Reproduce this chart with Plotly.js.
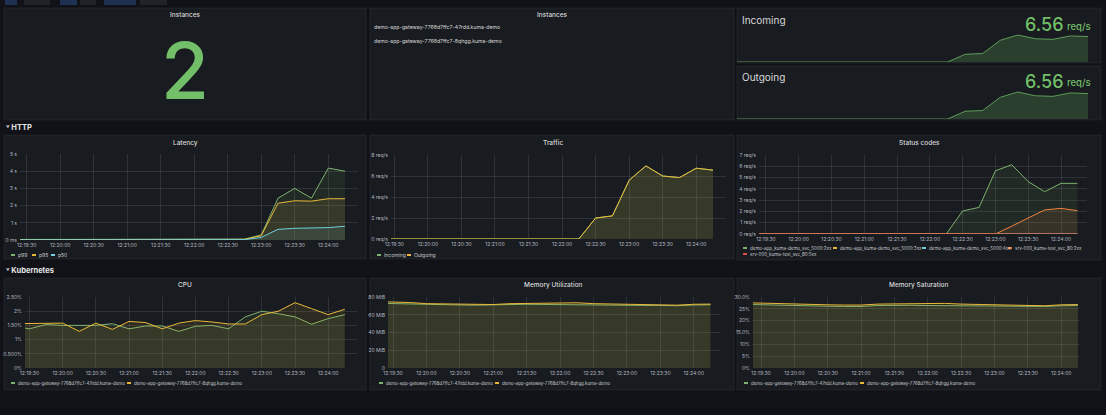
<!DOCTYPE html>
<html><head><meta charset="utf-8">
<script src="https://cdn.plot.ly/plotly-3.0.1.min.js"></script>
<style>html,body{margin:0;padding:0;background:#111217;overflow:hidden}#chart{width:1106px;height:415px}</style>
</head><body><div id="chart"></div>
<script>
// ---------- DATA ----------
const times = ['12:19:15','12:19:30','12:19:45','12:20:00','12:20:15','12:20:30','12:20:45','12:21:00','12:21:15','12:21:30','12:21:45','12:22:00','12:22:15','12:22:30','12:22:45','12:23:00','12:23:15','12:23:30','12:23:45','12:24:00','12:24:15'];
const timeTicks = ['12:19:30','12:20:00','12:20:30','12:21:00','12:21:30','12:22:00','12:22:30','12:23:00','12:23:30','12:24:00'];

const instanceCount = '2';
const instanceNames = ['demo-app-gateway-7768d7ffc7-47rdd.kuma-demo','demo-app-gateway-7768d7ffc7-8qhgg.kuma-demo'];
const incomingValue = '6.56';
const outgoingValue = '6.56';

const latencyNames = ['p99','p95','p50'];
const latencyP99 = [0.03,0.03,0.03,0.03,0.03,0.03,0.03,0.03,0.03,0.03,0.03,0.03,0.03,0.03,0.05,0.30,2.43,3.00,2.43,4.18,4.00];
const latencyP95 = [0.02,0.02,0.02,0.02,0.02,0.02,0.02,0.02,0.02,0.02,0.02,0.02,0.02,0.02,0.04,0.25,2.14,2.28,2.26,2.40,2.40];
const latencyP50 = [0.01,0.01,0.01,0.01,0.01,0.01,0.01,0.01,0.01,0.01,0.01,0.01,0.01,0.01,0.02,0.15,0.62,0.68,0.68,0.72,0.80];
const latencyTickVals = [0,1,2,3,4,5];
const latencyTickText = ['0 ms','1 s','2 s','3 s','4 s','5 s'];

const trafficNames = ['Incoming','Outgoing'];
const trafficIncoming = [0,0,0,0,0,0,0,0,0,0,0,0,0,2.00,2.20,5.60,6.96,6.00,5.85,6.74,6.56];
const trafficOutgoing = [0,0,0,0,0,0,0,0,0,0,0,0,0,2.00,2.20,5.60,6.96,6.00,5.85,6.74,6.56];
const trafficTickVals = [0,2,4,6,8];
const trafficTickText = ['0 req/s','2 req/s','4 req/s','6 req/s','8 req/s'];

const statusNames = ['demo-app_kuma-demo_svc_5000:2xx','demo-app_kuma-demo_svc_5000:3xx','demo-app_kuma-demo_svc_5000:4xx','srv-000_kuma-test_svc_80:2xx','srv-000_kuma-test_svc_80:5xx'];
const statusDemo2xx = [0,0,0,0,0,0,0,0,0,0,0,0,0,2.04,2.36,5.60,6.14,4.64,3.75,4.49,4.49];
const statusDemo3xx = [0,0,0,0,0,0,0,0,0,0,0,0,0,0,0,0,0,0,0,0,0];
const statusDemo4xx = [0,0,0,0,0,0,0,0,0,0,0,0,0,0,0,0,0,0,0,0,0];
const statusSrv2xx  = [0,0,0,0,0,0,0,0,0,0,0,0,0,0,0,0,0.70,1.40,2.13,2.27,2.07];
const statusSrv5xx  = [0,0,0,0,0,0,0,0,0,0,0,0,0,0,0,0,0,0,0,0,0];
const statusTickVals = [0,1,2,3,4,5,6,7];
const statusTickText = ['0 req/s','1 req/s','2 req/s','3 req/s','4 req/s','5 req/s','6 req/s','7 req/s'];

const podNames = ['demo-app-gateway-7768d7ffc7-47rdd.kuma-demo','demo-app-gateway-7768d7ffc7-8qhgg.kuma-demo'];
const cpu47rdd = [1.48,1.38,1.53,1.50,1.50,1.50,1.56,1.38,1.48,1.48,1.29,1.47,1.50,1.38,1.80,2.00,1.91,1.80,1.54,1.74,1.88];
const cpu8qhgg = [1.56,1.56,1.56,1.58,1.29,1.58,1.36,1.64,1.60,1.38,1.58,1.67,1.62,1.55,1.55,1.88,2.00,2.30,2.09,1.88,2.07];
const cpuTickVals = [0,0.5,1,1.5,2,2.5];
const cpuTickText = ['0%','0.500%','1%','1.50%','2%','2.50%'];

const memUtil47rdd = [73.0,72.5,71.8,71.2,71.0,71.0,70.8,70.8,71.5,71.8,71.5,71.2,71.0,71.0,71.0,70.8,70.5,70.5,70.2,71.0,71.2];
const memUtil8qhgg = [74.8,74.5,73.8,72.5,72.2,72.0,71.5,71.5,72.5,72.8,73.0,73.2,73.5,72.5,72.0,72.0,71.8,71.2,70.8,71.8,72.0];
const memUtilTickVals = [0,20,40,60,80];
const memUtilTickText = ['0','20 MiB','40 MiB','60 MiB','80 MiB'];

const memSat47rdd = [26.9,26.7,26.4,26.2,26.1,26.1,26.0,26.0,26.4,26.6,26.5,26.4,26.3,26.3,26.3,26.2,26.1,26.1,26.0,26.3,26.4];
const memSat8qhgg = [27.6,27.4,27.0,26.8,26.8,26.7,26.6,26.6,27.0,27.1,27.1,27.2,27.3,27.0,26.8,26.8,26.7,26.5,26.3,26.7,26.8];
const memSatTickVals = [0,5,10,15,20,25,30];
const memSatTickText = ['0%','5%','10%','15.0%','20%','25%','30.0%'];

// ---------- STYLE / LAYOUT HELPERS ----------
const W = 1106, H = 415;
const DAY = '2021-06-01 ';
const T = s => DAY + s;
const PAGE = '#111217', PANEL = '#181b1f', GRID = 'rgba(204,204,220,0.13)', TICK = '#b4b8c0', TXT = '#d8d9da';
const C = {green:'#7EB26D', yellow:'#EAB839', cyan:'#6ED0E0', orange:'#EF843C', red:'#E24D42', stat:'#73BF69'};
const FONT = 'Inter, Roboto, "Noto Sans", sans-serif';
const px = x => x / W, py = y => 1 - y / H;
function rgba(hex, a){const n=parseInt(hex.slice(1),16);return `rgba(${n>>16},${(n>>8)&255},${n&255},${a})`;}

const shapes = [], annotations = [], traces = [];
const layout = {width:W, height:H, margin:{l:0,r:0,t:0,b:0}, paper_bgcolor:PAGE, plot_bgcolor:'rgba(0,0,0,0)',
  showlegend:false, font:{family:FONT, color:TXT}, hovermode:false};

function panel(x0,y0,x1,y1){shapes.push({type:'rect',xref:'paper',yref:'paper',x0:px(x0),x1:px(x1),y0:py(y1),y1:py(y0),fillcolor:PANEL,line:{color:'rgba(204,204,220,0.07)',width:1},layer:'below'});}
function text(t,x,y,opt){annotations.push(Object.assign({text:t,xref:'paper',yref:'paper',x:px(x),y:py(y),showarrow:false,xanchor:'left',yanchor:'middle',font:{size:5.2,color:TXT,family:FONT},borderpad:0},opt||{}));}
function title(t,x,y){text(t,x,y,{xanchor:'center',font:{size:6.5,color:'#d8d9da',family:FONT,weight:500}});}
function legend(items,y,fs){items.forEach(it=>{shapes.push({type:'rect',xref:'paper',yref:'paper',x0:px(it.x),x1:px(it.x+4),y0:py(y+1),y1:py(y-1),fillcolor:it.c,line:{width:0}});text(it.t,it.x+6,y,{font:{size:fs||5,color:'#c7cbd1',family:FONT}});});}

let axN = 0;
function chart(box, xr, yr, tv, tt, series){
  axN++;
  const xa = 'xaxis'+(axN===1?'':axN), ya = 'yaxis'+(axN===1?'':axN);
  const xs = 'x'+(axN===1?'':axN), ys = 'y'+(axN===1?'':axN);
  layout[xa] = {domain:[px(box[0]),px(box[1])], range:[T(xr[0]),T(xr[1])], type:'date', anchor:ys,
    tickvals:timeTicks.map(T), ticktext:timeTicks, tickfont:{size:5,color:TICK,family:FONT}, gridcolor:GRID, gridwidth:1,
    showline:false, zeroline:false, ticks:'', ticklabelstandoff:1, fixedrange:true};
  layout[ya] = {domain:[py(box[3]),py(box[2])], range:yr, anchor:xs, tickvals:tv, ticktext:tt,
    tickfont:{size:5,color:TICK,family:FONT}, gridcolor:GRID, gridwidth:1, showline:false, zeroline:false, ticks:'', ticklabelstandoff:2, fixedrange:true};
  series.forEach(s=>traces.push({type:'scatter',mode:'lines',x:times.map(T),y:s.y,xaxis:xs,yaxis:ys,
    line:{color:s.c,width:1},fill:'tozeroy',fillcolor:rgba(s.c,s.a||0.1),cliponaxis:true,hoverinfo:'skip'}));
}
function spark(box, xr, y, c){
  axN++;
  const xa = 'xaxis'+axN, ya = 'yaxis'+axN;
  layout[xa] = {domain:[px(box[0]),px(box[1])], range:[T(xr[0]),T(xr[1])], type:'date', visible:false, anchor:'y'+axN, fixedrange:true};
  layout[ya] = {domain:[py(box[3]),py(box[2])], range:[0,8], visible:false, anchor:'x'+axN, fixedrange:true};
  traces.push({type:'scatter',mode:'lines',x:times.map(T),y:y,xaxis:'x'+axN,yaxis:'y'+axN,line:{color:rgba(c,0.75),width:1},fill:'tozeroy',fillcolor:rgba(c,0.22),hoverinfo:'skip'});
}

// ---------- TOP TOOLBAR ----------
[[5,17,'#1f3152'],[24,50,'#202329'],[60,77,'#1f3152'],[80,96,'#202329'],[104,136,'#1f3152'],[140,167,'#202329']].forEach(b=>{
  shapes.push({type:'rect',xref:'paper',yref:'paper',x0:px(b[0]),x1:px(b[1]),y0:py(5),y1:py(-2),fillcolor:b[2],line:{width:0}});
});

// ---------- PANELS ----------
panel(4,8,366,120); panel(370,8,734,120); panel(737,8,1101,63); panel(737,66,1101,120);
panel(4,135,366,259); panel(370,135,734,259); panel(737,135,1101,260);
panel(4,278,366,390); panel(370,278,734,390); panel(737,278,1101,390);

// Top row
title('Instances',185,15);
text(instanceCount,185,71,{xanchor:'center',font:{size:78,color:C.stat,family:FONT,weight:500}});
title('Instances',552,15);
text(instanceNames[0],373,27,{font:{size:5.2,color:TXT,family:FONT}});
text(instanceNames[1],373,41,{font:{size:5.2,color:TXT,family:FONT}});

text('Incoming',741,20,{font:{size:10,color:TXT,family:FONT}});
text(incomingValue,1064,24,{xanchor:'right',font:{size:18,color:C.stat,family:FONT,weight:500}});
text('req/s',1066,26,{font:{size:9.5,color:C.stat,family:FONT,weight:500}});
spark([737,1088,31,62],['12:19:15','12:24:15'],trafficIncoming,C.stat);

text('Outgoing',741,77,{font:{size:10,color:TXT,family:FONT}});
text(outgoingValue,1064,81,{xanchor:'right',font:{size:18,color:C.stat,family:FONT,weight:500}});
text('req/s',1066,83,{font:{size:9.5,color:C.stat,family:FONT,weight:500}});
spark([737,1088,88,119],['12:19:15','12:24:15'],trafficOutgoing,C.stat);

// Row headers
text('˅ HTTP',5,128,{font:{size:7.5,color:'#e6e7e8',family:FONT,weight:700}});
text('˅ Kubernetes',5,270,{font:{size:7.5,color:'#e6e7e8',family:FONT,weight:700}});

// HTTP row
title('Latency',185,143);
chart([20,358,154,240],['12:19:24','12:24:26.6'],[0,5],latencyTickVals,latencyTickText,
  [{y:latencyP99,c:C.green},{y:latencyP95,c:C.yellow},{y:latencyP50,c:C.cyan}]);
legend([{x:11,t:latencyNames[0],c:C.green},{x:32,t:latencyNames[1],c:C.yellow},{x:51,t:latencyNames[2],c:C.cyan}],255,5);

title('Traffic',553,143);
chart([391,726,155,239],['12:19:27','12:24:26.6'],[0,8],trafficTickVals,trafficTickText,
  [{y:trafficIncoming,c:C.green},{y:trafficOutgoing,c:C.yellow}]);
legend([{x:377,t:trafficNames[0],c:C.green},{x:407,t:trafficNames[1],c:C.yellow}],255,5);

title('Status codes',919,143);
chart([759,1087,155,234],['12:19:23.6','12:24:23.8'],[0,7],statusTickVals,statusTickText,
  [{y:statusDemo2xx,c:C.green},{y:statusDemo3xx,c:C.yellow},{y:statusDemo4xx,c:C.cyan},{y:statusSrv2xx,c:C.orange},{y:statusSrv5xx,c:C.red}]);
legend([{x:743,t:statusNames[0],c:C.green},{x:833,t:statusNames[1],c:C.yellow},{x:922,t:statusNames[2],c:C.cyan},{x:1008,t:statusNames[3],c:C.orange}],248,4.5);
legend([{x:743,t:statusNames[4],c:C.red}],254,4.5);

// Kubernetes row
title('CPU',185,285);
chart([25,357,297,368],['12:19:26','12:24:26'],[0,2.5],cpuTickVals,cpuTickText,
  [{y:cpu47rdd,c:C.green},{y:cpu8qhgg,c:C.yellow}]);
legend([{x:11,t:podNames[0],c:C.green},{x:127,t:podNames[1],c:C.yellow}],383,4.4);

title('Memory Utilization',553,285);
chart([388,720,297,368],['12:19:25.5','12:24:23.5'],[0,80],memUtilTickVals,memUtilTickText,
  [{y:memUtil47rdd,c:C.green},{y:memUtil8qhgg,c:C.yellow}]);
legend([{x:379,t:podNames[0],c:C.green},{x:495,t:podNames[1],c:C.yellow}],383,4.4);

title('Memory Saturation',919,285);
chart([753,1079,297,368],['12:19:22.8','12:24:16'],[0,30],memSatTickVals,memSatTickText,
  [{y:memSat47rdd,c:C.green},{y:memSat8qhgg,c:C.yellow}]);
legend([{x:744,t:podNames[0],c:C.green},{x:860,t:podNames[1],c:C.yellow}],383,4.4);

layout.shapes = shapes; layout.annotations = annotations;
Plotly.newPlot('chart', traces, layout, {staticPlot:true, displayModeBar:false});
</script></body></html>
